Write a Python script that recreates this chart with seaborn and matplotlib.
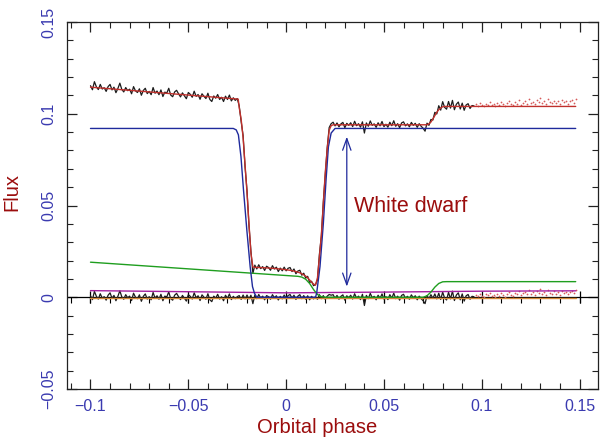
import numpy as np
import pandas as pd
import matplotlib
matplotlib.use('Agg')
import matplotlib.pyplot as plt
import seaborn as sns
from matplotlib.ticker import MultipleLocator, FuncFormatter

sns.set_theme(style='ticks')
plt.rcParams['font.family'] = ['Liberation Sans', 'DejaVu Sans']

# binned light curve, phase -0.100 ... 0.096 in 0.001 bins
phase = np.round(np.arange(-0.100, 0.0965, 0.001), 3)
flux = [
    0.1153, 0.1131, 0.1175, 0.1147, 0.1132, 0.1160, 0.1135, 0.1142, 0.1122, 0.1148,
    0.1160, 0.1130, 0.1145, 0.1115, 0.1138, 0.1167, 0.1133, 0.1119, 0.1143, 0.1126,
    0.1134, 0.1109, 0.1148, 0.1125, 0.1116, 0.1136, 0.1101, 0.1127, 0.1139, 0.1110,
    0.1122, 0.1104, 0.1143, 0.1112, 0.1124, 0.1104, 0.1130, 0.1094, 0.1118, 0.1113,
    0.1139, 0.1102, 0.1093, 0.1119, 0.1128, 0.1109, 0.1092, 0.1114, 0.1098, 0.1082,
    0.1116, 0.1106, 0.1090, 0.1123, 0.1095, 0.1105, 0.1079, 0.1109, 0.1095, 0.1083,
    0.1112, 0.1078, 0.1067, 0.1097, 0.1085, 0.1105, 0.1078, 0.1090, 0.1067, 0.1096,
    0.1078, 0.1102, 0.1070, 0.1087, 0.1073, 0.1083,
    # ingress
    0.1044, 0.0958, 0.0882, 0.0711, 0.0582, 0.0391, 0.0251, 0.0130,
    # totality
    0.0175, 0.0154, 0.0177, 0.0156, 0.0167, 0.0146, 0.0169, 0.0162, 0.0147, 0.0172,
    0.0154, 0.0164, 0.0140, 0.0159, 0.0144, 0.0164, 0.0144, 0.0158, 0.0162, 0.0140,
    0.0154, 0.0128, 0.0143, 0.0147, 0.0120, 0.0131, 0.0104, 0.0114, 0.0080, 0.0087,
    0.0063,
    # egress
    0.0069, 0.0094, 0.0234, 0.0332, 0.0519, 0.0668, 0.0816, 0.0925, 0.0946,
    # after white dwarf egress
    0.0954, 0.0934, 0.0950, 0.0929, 0.0945, 0.0953, 0.0924, 0.0948, 0.0937, 0.0951,
    0.0930, 0.0959, 0.0935, 0.0946, 0.0927, 0.0956, 0.0895, 0.0950, 0.0932, 0.0961,
    0.0937, 0.0945, 0.0926, 0.0951, 0.0934, 0.0958, 0.0930, 0.0943, 0.0927, 0.0954,
    0.0935, 0.0962, 0.0932, 0.0946, 0.0924, 0.0950, 0.0956, 0.0934, 0.0945, 0.0929,
    0.0953, 0.0937, 0.0948, 0.0926, 0.0946, 0.0932, 0.0921, 0.0905,
    # bright spot egress and after
    0.0949, 0.0937, 0.0969, 0.0966, 0.1008, 0.0999, 0.1044, 0.1020, 0.1066, 0.1035,
    0.1025, 0.1067, 0.1031, 0.1073, 0.1022, 0.1052, 0.1064, 0.1026, 0.1058, 0.1019,
    0.1048, 0.1055, 0.1029, 0.1045, 0.1043,
]
resid = [
    0.0008, -0.0013, 0.0032, 0.0005, -0.0010, 0.0019, -0.0005, 0.0003, -0.0016, 0.0011,
    0.0024, -0.0006, 0.0010, -0.0019, 0.0005, 0.0035, 0.0002, -0.0011, 0.0014, -0.0003,
    0.0006, -0.0018, 0.0022, 0.0000, -0.0008, 0.0013, -0.0022, 0.0005, 0.0018, -0.0010,
    0.0003, -0.0014, 0.0026, -0.0005, 0.0008, -0.0011, 0.0016, -0.0019, 0.0006, 0.0002,
    0.0029, -0.0008, -0.0016, 0.0011, 0.0021, 0.0003, -0.0013, 0.0010, -0.0006, -0.0021,
    0.0014, 0.0005, -0.0010, 0.0024, -0.0003, 0.0008, -0.0018, 0.0013, 0.0000, -0.0011,
    0.0019, -0.0014, -0.0024, 0.0006, -0.0005, 0.0016, -0.0010, 0.0003, -0.0019, 0.0011,
    -0.0006, 0.0018, -0.0013, 0.0005, -0.0008, 0.0003,
    0.0009, -0.0012, 0.0012, -0.0009, 0.0012, -0.0009, 0.0011, -0.0035,
    0.0012, -0.0008, 0.0015, -0.0005, 0.0006, -0.0014, 0.0009, 0.0003, -0.0011, 0.0014,
    -0.0003, 0.0008, -0.0015, 0.0005, -0.0009, 0.0012, -0.0006, 0.0009, 0.0015, -0.0005,
    0.0011, -0.0012, 0.0006, 0.0014, -0.0008, 0.0009, -0.0011, 0.0008, -0.0014, 0.0005,
    -0.0009,
    0.0003, -0.0011, 0.0014, -0.0008, 0.0009, -0.0012, 0.0006, 0.0015, 0.0011,
    0.0014, -0.0006, 0.0010, -0.0011, 0.0005, 0.0013, -0.0016, 0.0008, -0.0003, 0.0011,
    -0.0010, 0.0019, -0.0005, 0.0006, -0.0013, 0.0016, -0.0045, 0.0010, -0.0008, 0.0021,
    -0.0003, 0.0005, -0.0014, 0.0011, -0.0006, 0.0018, -0.0010, 0.0003, -0.0013, 0.0014,
    -0.0005, 0.0022, -0.0008, 0.0006, -0.0016, 0.0010, 0.0016, -0.0006, 0.0005, -0.0011,
    0.0013, -0.0003, 0.0008, -0.0014, 0.0006, -0.0008, -0.0019, -0.0035,
    0.0009, -0.0008, 0.0014, -0.0006, 0.0018, -0.0009, 0.0022, -0.0012, 0.0028, -0.0005,
    -0.0015, 0.0027, -0.0009, 0.0033, -0.0018, 0.0012, 0.0024, -0.0014, 0.0018, -0.0021,
    0.0008, 0.0015, -0.0011, 0.0005, 0.0003,
]

# points outside the fitted range, plotted as red dots
phase_out = np.round(np.arange(0.097, 0.1485, 0.001), 3)
flux_out = [
    0.1052, 0.1045, 0.1058, 0.1048, 0.1042, 0.1055, 0.1050, 0.1062, 0.1046, 0.1054,
    0.1043, 0.1060, 0.1049, 0.1065, 0.1051, 0.1044, 0.1058, 0.1070, 0.1053, 0.1048,
    0.1064, 0.1056, 0.1075, 0.1050, 0.1061, 0.1068, 0.1055, 0.1080, 0.1059, 0.1066,
    0.1052, 0.1073, 0.1062, 0.1085, 0.1058, 0.1069, 0.1054, 0.1078, 0.1064, 0.1057,
    0.1072, 0.1060, 0.1067, 0.1051, 0.1076, 0.1063, 0.1070, 0.1056, 0.1068, 0.1074,
    0.1061, 0.1078,
]
resid_out = [
    0.0012, 0.0005, 0.0018, 0.0008, 0.0002, 0.0015, 0.0010, 0.0022, 0.0006, 0.0014,
    0.0003, 0.0020, 0.0009, 0.0025, 0.0011, 0.0004, 0.0018, 0.0030, 0.0013, 0.0008,
    0.0024, 0.0016, 0.0035, 0.0010, 0.0021, 0.0028, 0.0015, 0.0040, 0.0019, 0.0026,
    0.0012, 0.0033, 0.0022, 0.0045, 0.0018, 0.0029, 0.0014, 0.0038, 0.0024, 0.0017,
    0.0032, 0.0020, 0.0027, 0.0011, 0.0036, 0.0023, 0.0030, 0.0016, 0.0028, 0.0034,
    0.0021, 0.0038,
]

# model fit and its components
model_phase = [-0.1, -0.0245, -0.024, -0.023, -0.022, -0.021, -0.020, -0.019, -0.018, -0.017,
               -0.016, -0.010, -0.005, 0.0, 0.003, 0.005, 0.007, 0.009, 0.010, 0.011,
               0.012, 0.013, 0.014, 0.015, 0.016, 0.017, 0.018, 0.019, 0.020, 0.021,
               0.022, 0.023, 0.024, 0.072, 0.073, 0.074, 0.075, 0.076, 0.077, 0.078,
               0.079, 0.080, 0.081, 0.082, 0.148]
model_flux = [0.1145, 0.1080, 0.1035, 0.097, 0.087, 0.072, 0.057, 0.040, 0.024, 0.0165,
              0.0163, 0.0160, 0.0156, 0.0150, 0.0145, 0.0140, 0.0133, 0.0122, 0.0115, 0.0106,
              0.0094, 0.0082, 0.0072, 0.0066, 0.0105, 0.022, 0.034, 0.051, 0.068, 0.081,
              0.091, 0.0935, 0.094, 0.094, 0.0945, 0.0955, 0.0972, 0.0990, 0.1008, 0.1022,
              0.1032, 0.1038, 0.1040, 0.1040, 0.1040]

wd_phase = [-0.1, -0.027, -0.0255, -0.0244, -0.0231, -0.0218, -0.0201, -0.0184, -0.0172, -0.0162,
            -0.015, 0.0150, 0.0156, 0.0173, 0.0190, 0.0204, 0.0216, 0.0230, 0.0250, 0.148]
wd_flux = [0.092, 0.092, 0.0912, 0.0885, 0.0767, 0.0585, 0.0367, 0.0167, 0.0058, 0.0022,
           0.0, 0.0, 0.0022, 0.0167, 0.040, 0.064, 0.082, 0.0895, 0.092, 0.092]

spot_phase = [-0.1, 0.006, 0.008, 0.010, 0.012, 0.014, 0.016, 0.018, 0.020,
              0.070, 0.072, 0.074, 0.076, 0.078, 0.080, 0.082, 0.148]
spot_flux = [0.0191, 0.0114, 0.0110, 0.0098, 0.0075, 0.0042, 0.0015, 0.0003, 0.0,
             0.0, 0.0008, 0.0028, 0.0055, 0.0075, 0.0084, 0.0085, 0.0085]

donor_phase = [-0.1, -0.05, 0.0, 0.05, 0.1, 0.148]
donor_flux = [0.0036, 0.0030, 0.0024, 0.0028, 0.0033, 0.0035]

disc_phase = [-0.1, 0.148]
disc_flux = [-0.0003, -0.0003]

c_tick = '#3a3ab0'
c_label = '#9b0d0d'
c_red = '#c0302c'
c_dots = '#d65a5a'
c_blue = '#1f2a9c'
c_green = '#1f9e1f'
c_mag = '#a4209e'
c_orange = '#d4893a'

fig, ax = plt.subplots(figsize=(6, 4.41), dpi=100)
fig.subplots_adjust(left=0.1117, right=0.997, bottom=0.118, top=0.950)

ax.axhline(0, color='black', lw=0.9, zorder=1)

lc = pd.DataFrame({'phase': phase, 'flux': flux, 'resid': resid})
out = pd.DataFrame({'phase': phase_out, 'flux': flux_out, 'resid': resid_out})

for col in ['flux', 'resid']:
    sns.lineplot(data=lc, x='phase', y=col, ax=ax, color='#1c1c1c', lw=0.9,
                 estimator=None, sort=False, zorder=2)
    sns.scatterplot(data=out, x='phase', y=col, ax=ax, color=c_dots, s=1.6,
                    linewidth=0, zorder=2)

for xs, ys, c in [(disc_phase, disc_flux, c_orange),
                  (donor_phase, donor_flux, c_mag),
                  (spot_phase, spot_flux, c_green),
                  (wd_phase, wd_flux, c_blue),
                  (model_phase, model_flux, c_red)]:
    sns.lineplot(x=xs, y=ys, ax=ax, color=c, lw=1.0, estimator=None, sort=False, zorder=3)

# tick marks along the zero line
for t in np.arange(-0.1, 0.151, 0.05):
    ax.plot([t], [0], marker='|', ms=8, mew=0.9, color='black', zorder=1)
for t in np.arange(-0.11, 0.16, 0.01):
    ax.plot([t], [0], marker=3, ms=4, mew=0.8, color='black', zorder=1)

ax.annotate('', xy=(0.031, 0.0058), xytext=(0.031, 0.0875),
            arrowprops=dict(arrowstyle='<->,head_length=0.7,head_width=0.25',
                            color=c_blue, lw=0.9, shrinkA=0, shrinkB=0))
ax.text(0.0345, 0.0495, 'White dwarf', color=c_label, fontsize=15.5, va='center')

ax.set_xlim(-0.112, 0.1595)
ax.set_ylim(-0.05, 0.15)
ax.xaxis.set_major_locator(MultipleLocator(0.05))
ax.xaxis.set_minor_locator(MultipleLocator(0.01))
ax.yaxis.set_major_locator(MultipleLocator(0.05))
ax.yaxis.set_minor_locator(MultipleLocator(0.01))
fmt = FuncFormatter(lambda v, p: ('%g' % round(v, 3)).replace('-', '\u2212'))
ax.xaxis.set_major_formatter(fmt)
ax.yaxis.set_major_formatter(fmt)

ax.tick_params(which='both', direction='in', top=True, right=True, color='#222222',
               labelcolor=c_tick, labelsize=11.5)
ax.tick_params(which='major', length=7, width=0.9)
ax.tick_params(which='minor', length=4, width=0.8)
ax.tick_params(axis='x', pad=7)
ax.tick_params(axis='y', pad=8, labelrotation=90)
for lbl in ax.get_yticklabels():
    lbl.set_va('center')
for s in ax.spines.values():
    s.set_color('#222222')
    s.set_linewidth(0.9)

ax.set_xlabel('Orbital phase', color=c_label, fontsize=14.5, va='center')
ax.set_ylabel('Flux', color=c_label, fontsize=14.5, va='center', ha='center')
ax.xaxis.set_label_coords(0.471, -0.106)
ax.yaxis.set_label_coords(-0.1036, 0.537)

fig.savefig('out.png', dpi=100)
